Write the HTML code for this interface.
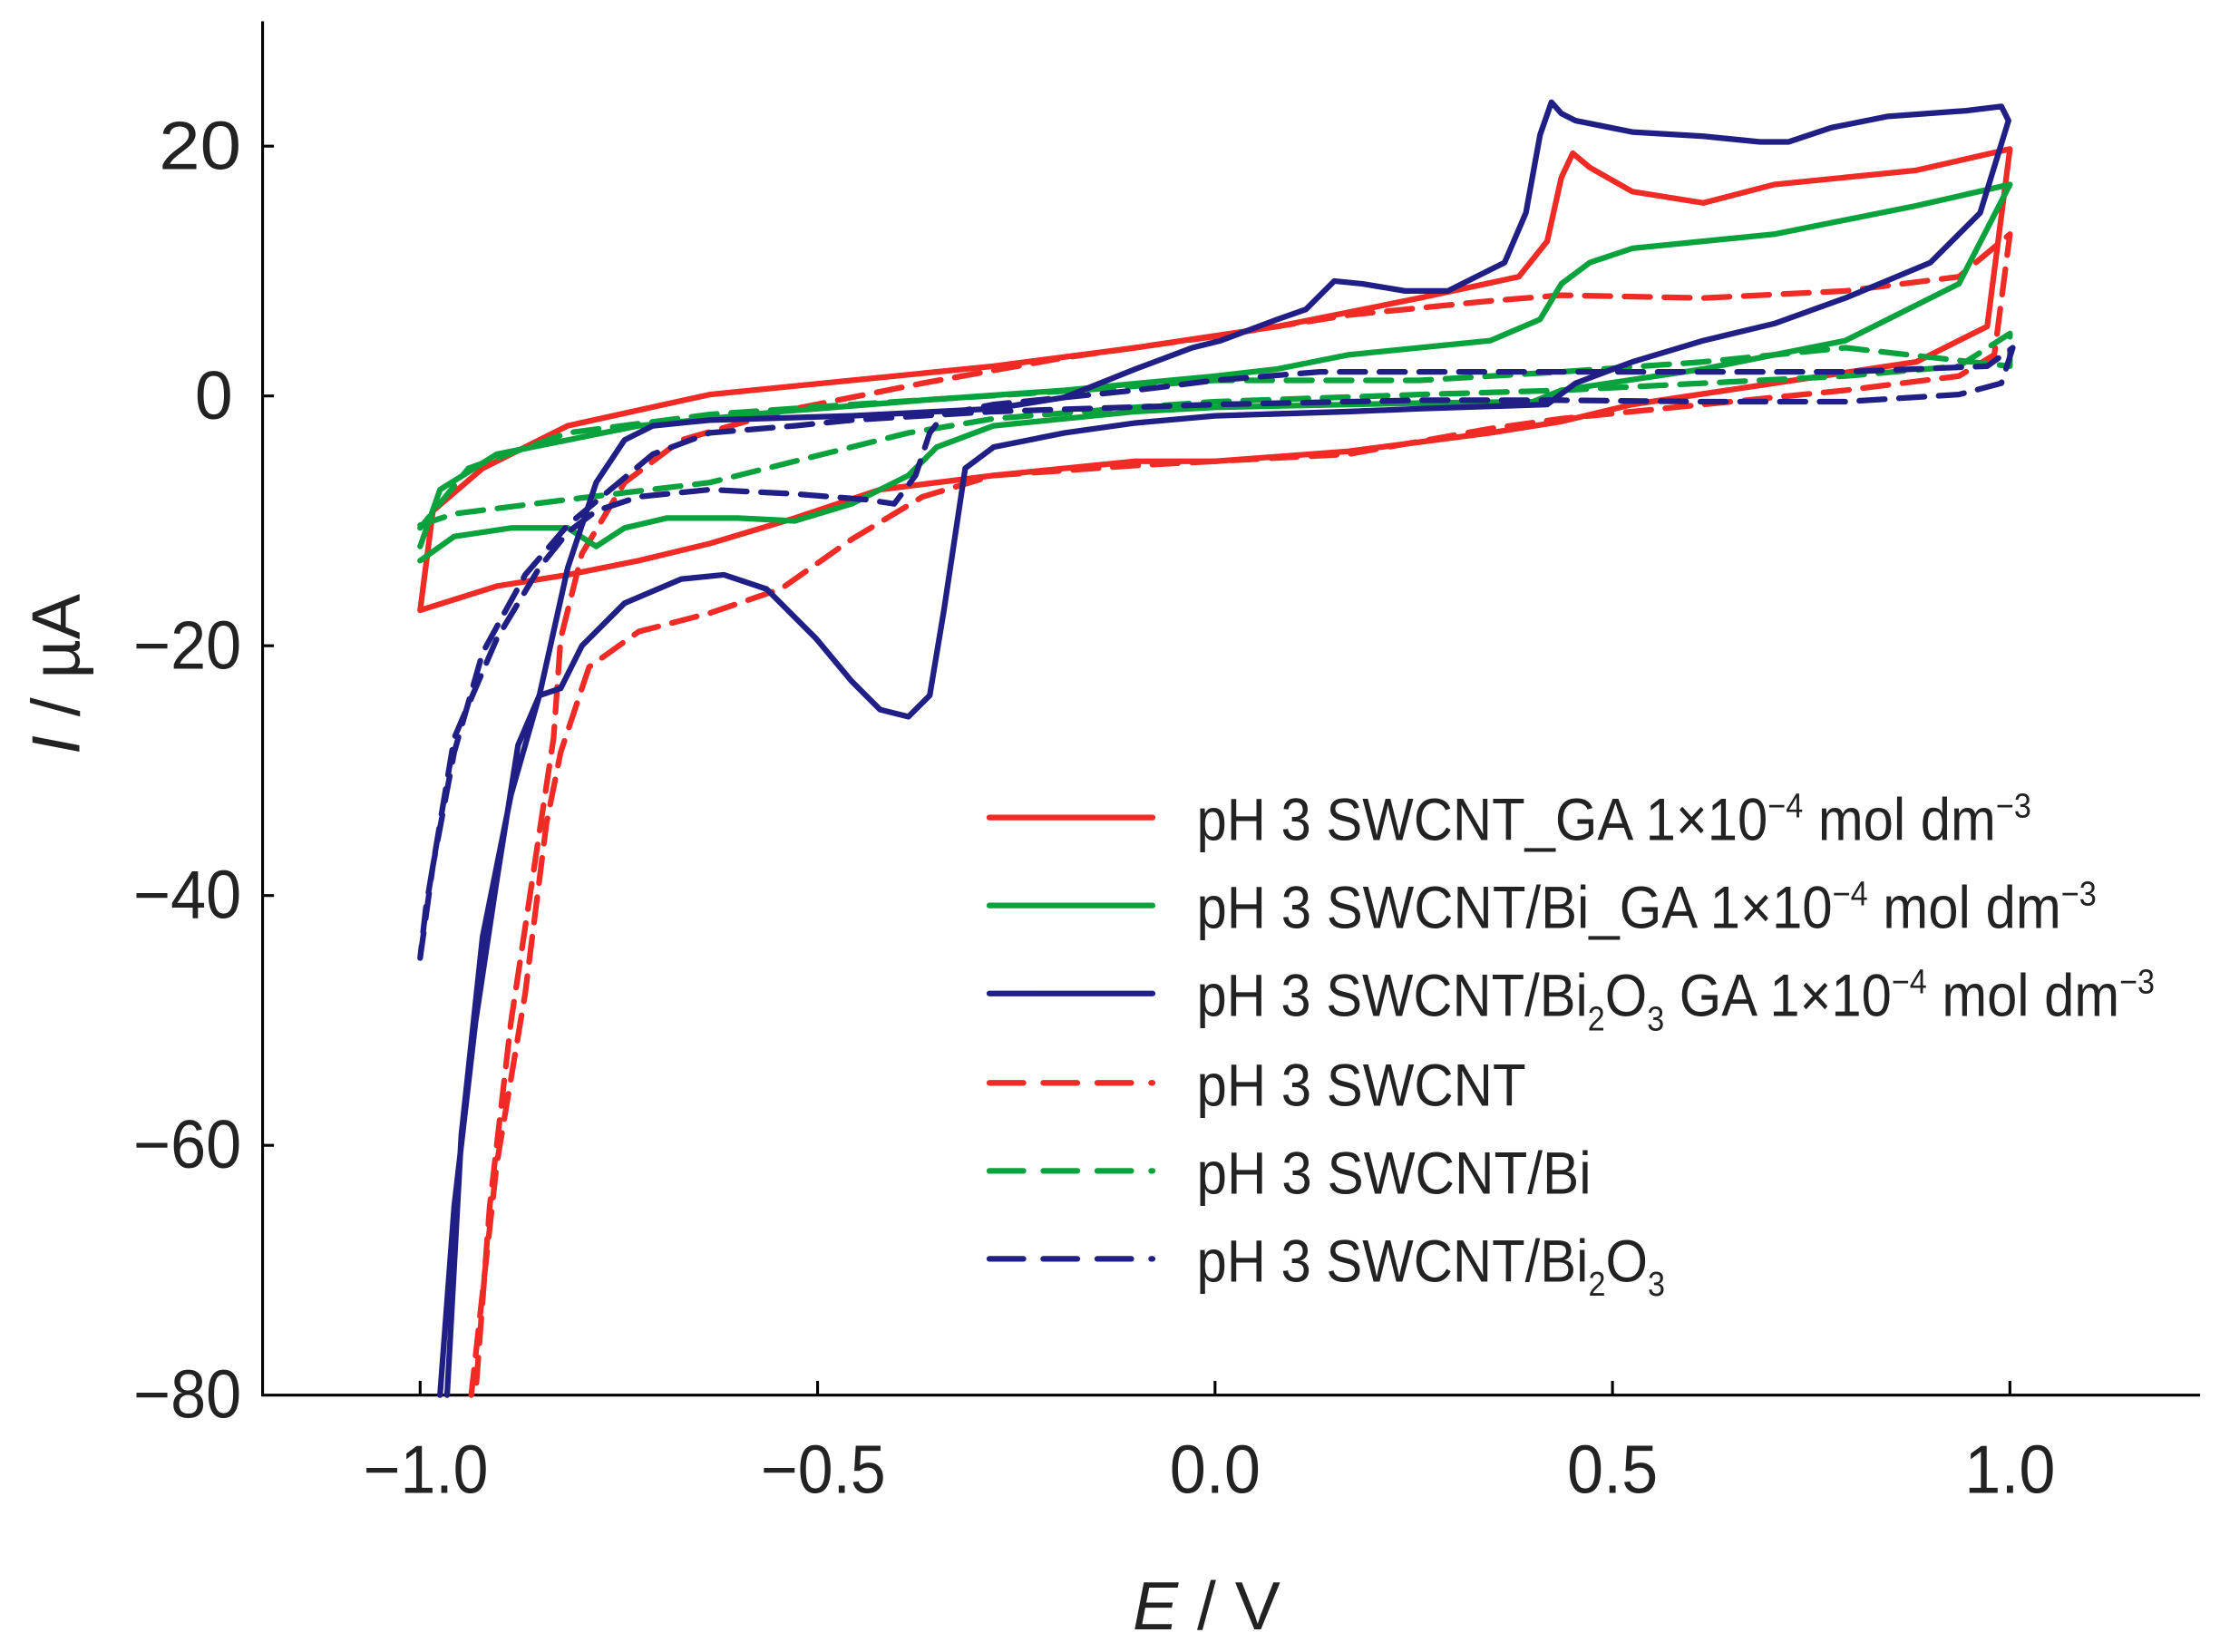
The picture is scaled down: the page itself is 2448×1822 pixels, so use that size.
<!DOCTYPE html>
<html><head><meta charset="utf-8"><style>html,body{margin:0;padding:0;background:#fff}svg{display:block}</style></head>
<body>
<svg width="2448" height="1822" viewBox="0 0 1564 1164" preserveAspectRatio="none" xmlns="http://www.w3.org/2000/svg" font-family="'Liberation Sans', sans-serif">
<rect width="1564" height="1164" fill="#fff"/>
<g stroke="#000" stroke-width="2" fill="none">
<path d="M185,15 V983 H1550"/>
<path d="M296,983 v-10 M576,983 v-10 M856,983 v-10 M1136,983 v-10 M1416,983 v-10"/>
<path d="M185,103 h8 M185,279 h8 M185,455 h8 M185,631 h8 M185,807 h8"/>
</g>
<g font-size="48" fill="#222" text-anchor="end">
<text x="170" y="119" textLength="58" lengthAdjust="spacingAndGlyphs">20</text>
<text x="164" y="295">0</text>
<text x="170" y="471" textLength="76" lengthAdjust="spacingAndGlyphs">−20</text>
<text x="170" y="647" textLength="76" lengthAdjust="spacingAndGlyphs">−40</text>
<text x="170" y="823" textLength="76" lengthAdjust="spacingAndGlyphs">−60</text>
<text x="170" y="999" textLength="76" lengthAdjust="spacingAndGlyphs">−80</text>
</g>
<g font-size="48" fill="#222" text-anchor="middle">
<text x="300" y="1052" textLength="88" lengthAdjust="spacingAndGlyphs">−1.0</text>
<text x="580" y="1052" textLength="88" lengthAdjust="spacingAndGlyphs">−0.5</text>
<text x="856" y="1052" textLength="64" lengthAdjust="spacingAndGlyphs">0.0</text>
<text x="1136" y="1052" textLength="64" lengthAdjust="spacingAndGlyphs">0.5</text>
<text x="1416" y="1052" textLength="64" lengthAdjust="spacingAndGlyphs">1.0</text>
<text x="850" y="1148"><tspan font-style="italic">E</tspan> / V</text>
<text transform="translate(56,475) rotate(-90)"><tspan font-style="italic">I</tspan> /  µA</text>
</g>
<g fill="none" stroke-width="4" stroke-linejoin="round" stroke-linecap="round">
<path stroke="#f02a25" d="M296,430 L350,413 400,405 450,395 500,383 560,365 620,345 700,335 800,325 856,325 950,318 1050,305 1100,297 1150,285 1250,270 1350,255 1400,230 1416,105 L1350,120 1250,130 1200,143 1150,135 1120,118 1108,108 1100,125 1090,170 1070,195 1000,210 900,230 800,245 700,258 600,268 500,278 400,300 340,330 305,360 296,430"/>
<path stroke="#f02a25" stroke-dasharray="18,10" d="M332,983 L350,820 370,700 385,580 395,530 415,470 450,445 500,432 550,415 600,380 650,350 700,335 800,328 856,325 950,320 1050,302 1100,295 1200,285 1300,275 1380,265 1405,250 1416,165 L1380,195 1300,205 1200,210 1100,208 1050,212 950,222 856,237 750,252 650,270 550,290 480,310 440,340 410,390 395,450 390,520 375,620 360,720 345,850 335,983"/>
<path stroke="#0aa23c" d="M296,395 L320,378 360,372 400,372 420,385 440,372 470,365 520,365 560,367 600,355 640,335 660,315 700,300 800,290 856,287 1000,284 1080,283 1100,275 1200,260 1300,240 1380,200 1416,130 L1350,145 1250,165 1150,175 1120,185 1100,200 1085,225 1050,240 950,250 900,260 856,265 750,275 650,282 550,290 450,300 350,320 310,345 296,385"/>
<path stroke="#0aa23c" stroke-dasharray="18,10" d="M296,370 L320,362 400,352 500,340 580,320 640,305 700,295 800,287 856,283 1000,278 1100,275 1200,270 1300,265 1380,258 1416,235 L1416,258 1300,245 1200,255 1100,262 1000,268 856,268 760,275 600,285 500,292 400,305 330,330 296,372"/>
<path stroke="#1f1f85" d="M310,983 L320,850 335,720 350,620 365,525 380,490 395,485 410,455 440,425 480,408 510,405 540,415 575,450 600,480 620,500 640,505 655,490 665,430 680,330 700,315 750,305 800,298 856,293 950,290 1000,288 1090,285 1110,270 1150,255 1200,240 1250,228 1300,210 1360,185 1395,150 1415,85 L1410,75 1385,78 1330,82 1290,90 1260,100 1240,100 1200,96 1150,93 1110,85 1100,80 1093,72 1085,95 1075,150 1060,185 1020,205 990,205 960,200 940,198 920,218 900,225 860,240 840,245 800,260 750,280 700,288 600,293 500,296 460,300 440,310 420,340 400,400 380,490 360,560 340,660 325,800 315,983"/>
<path stroke="#1f1f85" stroke-dasharray="18,10" d="M296,675 L305,610 320,530 340,460 370,405 400,370 430,345 460,320 500,305 560,300 600,296 700,290 856,285 1000,282 1100,282 1200,283 1300,283 1380,278 1410,270 1418,245 L1400,258 1300,262 1200,262 1100,262 1000,262 930,262 856,268 800,275 700,285 665,292 655,305 645,335 630,355 610,352 560,348 500,345 450,350 420,360 400,375 380,400 350,450 320,520 300,640 296,675"/>
<path stroke="#f02a25" d="M697,576 H812"/>
<path stroke="#0aa23c" d="M697,638 H812"/>
<path stroke="#1f1f85" d="M697,700 H812"/>
<path stroke="#f02a25" stroke-dasharray="24,14" d="M697,763 H812"/>
<path stroke="#0aa23c" stroke-dasharray="24,14" d="M697,825 H812"/>
<path stroke="#1f1f85" stroke-dasharray="24,14" d="M697,887 H812"/>
</g>
<g font-size="42" fill="#222">
<text x="843" y="592" textLength="588" lengthAdjust="spacingAndGlyphs">pH 3 SWCNT_GA 1×10<tspan font-size="24" dy="-16">−4</tspan><tspan dy="16"> mol dm</tspan><tspan font-size="24" dy="-16">−3</tspan></text>
<text x="843" y="654" textLength="634" lengthAdjust="spacingAndGlyphs">pH 3 SWCNT/Bi_GA 1×10<tspan font-size="24" dy="-16">−4</tspan><tspan dy="16"> mol dm</tspan><tspan font-size="24" dy="-16">−3</tspan></text>
<text x="843" y="716" textLength="675" lengthAdjust="spacingAndGlyphs">pH 3 SWCNT/Bi<tspan font-size="24" dy="10">2</tspan><tspan dy="-10">O</tspan><tspan font-size="24" dy="10">3</tspan><tspan dy="-10"> GA 1×10</tspan><tspan font-size="24" dy="-16">−4</tspan><tspan dy="16"> mol dm</tspan><tspan font-size="24" dy="-16">−3</tspan></text>
<text x="843" y="779" textLength="232" lengthAdjust="spacingAndGlyphs">pH 3 SWCNT</text>
<text x="843" y="841" textLength="278" lengthAdjust="spacingAndGlyphs">pH 3 SWCNT/Bi</text>
<text x="843" y="903" textLength="330" lengthAdjust="spacingAndGlyphs">pH 3 SWCNT/Bi<tspan font-size="24" dy="10">2</tspan><tspan dy="-10">O</tspan><tspan font-size="24" dy="10">3</tspan></text>
</g>
</svg>
</body></html>
